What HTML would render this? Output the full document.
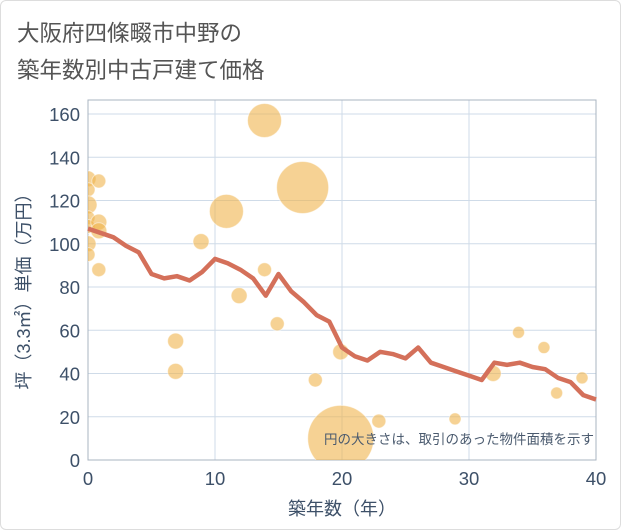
<!DOCTYPE html>
<html><head><meta charset="utf-8"><style>
body{margin:0;background:#fff;font-family:"Liberation Sans","Noto Sans CJK JP",sans-serif;}
#wrap{position:relative;width:619px;height:528px;border:1px solid #ddd;border-radius:6px;overflow:hidden}
</style></head><body>
<div id="wrap">
<svg id="c" width="621" height="530" style="position:absolute;left:-1px;top:-1px">
<text x="17" y="41" font-size="22.5" fill="#555" font-family="Liberation Sans, Noto Sans CJK JP, sans-serif">大阪府四條畷市中野の</text>
<text x="17" y="78" font-size="22.5" fill="#555" font-family="Liberation Sans, Noto Sans CJK JP, sans-serif">築年数別中古戸建て価格</text>
</svg>
</div>
<script>
const years=[0,1,2,3,4,5,6,7,8,9,10,11,12,13,14,15,16,17,18,19,20,21,22,23,24,25,26,27,28,29,30,31,32,33,34,35,36,37,38,39,40];
const avgPrice=[107,105,103,99,96,86,84,85,83,87,93,91,88,84,76,86,78,73,67,64,52,48,46,50,49,47,52,45,43,41,39,37,45,44,45,43,42,38,36,30,28];
const bubbleX=[0,0,0,0,0,0,0,0.85,0.85,0.85,0.85,8.9,6.9,6.9,10.9,13.9,16.9,11.9,13.9,14.9,17.9,19.9,19.9,22.9,28.9,31.9,33.9,35.9,36.9,38.9];
const bubbleY=[130,125,118,112,108,100,95,129,110,106,88,101,55,41,115,157,126,76,88,63,37,50,10,18,19,40,59,52,31,38];
const bubbleR=[8,7,9,7,7,8,7,7,8,8,7,8,8,8,17,17,26,8,7,7,7,8,33,7,6,8,6,6,6,6];
const yTicks=[0,20,40,60,80,100,120,140,160];
const xTicks=[0,10,20,30,40];
const NS="http://www.w3.org/2000/svg",svg=document.getElementById('c');
const L=88,R=596,T=114,B=460;
const sx=v=>L+(v/40)*(R-L), sy=v=>B-(v/160)*(B-T);
function mk(t,a){const e=document.createElementNS(NS,t);for(const k in a)e.setAttribute(k,a[k]);svg.appendChild(e);return e;}
const clip=mk('clipPath',{id:'pc'});const cr=document.createElementNS(NS,'rect');cr.setAttribute('x',L);cr.setAttribute('y',100);cr.setAttribute('width',R-L);cr.setAttribute('height',B-100);clip.appendChild(cr);
yTicks.forEach(v=>{const g=mk('line',{x1:L,x2:R,y1:sy(v),y2:sy(v),stroke:'#cfdbe8','stroke-width':1});


const t=mk('text',{x:L-8,y:sy(v)+7,'text-anchor':'end','font-size':18.5,fill:'#3d5068'});t.textContent=v;

});
xTicks.forEach(v=>{const g=mk('line',{x1:sx(v),x2:sx(v),y1:100,y2:B,stroke:'#cfdbe8','stroke-width':1});


const t=mk('text',{x:sx(v),y:B+25,'text-anchor':'middle','font-size':18.5,fill:'#3d5068'});t.textContent=v;

});
const fr=mk('rect',{x:L,y:100,width:R-L,height:B-100,fill:'none',stroke:'#aab4c0','stroke-width':1});


bubbleX.forEach((x,i)=>{const c=mk('circle',{cx:sx(x),cy:sy(bubbleY[i]),r:bubbleR[i],fill:'#f0b44c','fill-opacity':0.6,stroke:'#fff','stroke-opacity':0.5,'clip-path':'url(#pc)'});

});
const p=mk('polyline',{points:years.map((y,i)=>sx(y)+','+sy(avgPrice[i])).join(' '),fill:'none',stroke:'#d4705a','stroke-width':4.5,'stroke-linejoin':'round'});


const n=mk('text',{x:594,y:444,'text-anchor':'end','font-size':13.5,fill:'#4a5a6e'});n.textContent='円の大きさは、取引のあった物件面積を示す';


const xt=mk('text',{x:342,y:515,'text-anchor':'middle','font-size':18,fill:'#3d5068'});xt.textContent='築年数（年）';


const yt=mk('text',{x:0,y:0,'text-anchor':'middle','font-size':18,fill:'#3d5068',transform:'translate(30,287) rotate(-90)'});yt.textContent='坪（3.3㎡）単価（万円）';


</script>
</body></html>
